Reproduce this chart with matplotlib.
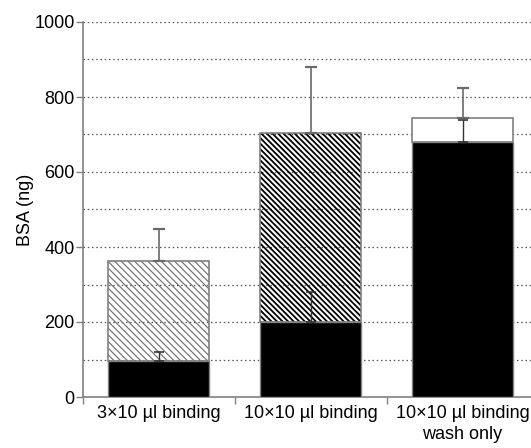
import numpy as np
import matplotlib
matplotlib.use("Agg")
import matplotlib.pyplot as plt

plt.rcParams['font.family'] = ['Liberation Sans', 'DejaVu Sans']

labels = ["3\u00d710 \u00b5l binding", "10\u00d710 \u00b5l binding", "10\u00d710 \u00b5l binding\nwash only"]
bound = [95, 200, 680]          # black part of each bar
bound_err = [25, 80, 58]
total = [364, 705, 745]         # full bar height
total_err = [83, 175, 79]

x = np.arange(len(labels))
width = 0.665
outline = '#808080'

fig = plt.figure(figsize=(5.31, 4.48), dpi=100)
ax = fig.add_axes([83 / 531, 51 / 448, 455.5 / 531, 375 / 448])

# dotted gridlines every 100
for v in range(100, 1001, 100):
    ax.axhline(v, color='#555555', lw=0.9, ls=(0, (1.2, 2.2)), zorder=0)

top = [t - b for t, b in zip(total, bound)]

# upper segments: light hatch, dark hatch, plain white
plt.rcParams['hatch.linewidth'] = 0.8
ax.bar(x[0], top[0], width, bottom=bound[0], facecolor='none', edgecolor='#6a6a6a',
       hatch='\\' * 5, lw=0, zorder=2)
plt.rcParams['hatch.linewidth'] = 1.3
ax.bar(x[1], top[1], width, bottom=bound[1], facecolor='none', edgecolor='black',
       hatch='\\' * 6, lw=0, zorder=2)
ax.bar(x[2], top[2], width, bottom=bound[2], facecolor='white', edgecolor=outline,
       lw=1.2, zorder=2)
ax.bar(x[:2], top[:2], width, bottom=bound[:2], facecolor='none', edgecolor=outline,
       lw=1.2, zorder=3)

ax.bar(x, bound, width, color='black', edgecolor=outline, lw=1.0, zorder=3)

# plus-only error bars
ax.errorbar(x, bound, yerr=[np.zeros(3), bound_err], fmt='none', ecolor='#333333',
            elinewidth=1.0, capsize=3.5, capthick=1.2, zorder=4)
ax.errorbar(x, total, yerr=[np.zeros(3), total_err], fmt='none', ecolor='#6a6a6a',
            elinewidth=1.2, capsize=4, capthick=1.6, zorder=4)

ax.set_xlim(-0.5, 2.5)
ax.set_ylim(0, 1000)
ax.set_yticks(range(0, 1001, 200))
ax.set_yticks(range(100, 1000, 200), minor=True)
ax.set_xticks([-0.5, 0.5, 1.5, 2.5])
ax.set_xticklabels([])
ax.set_xticks(x, minor=True)
ax.set_xticklabels(labels, minor=True, fontsize=13, linespacing=1.3)
ax.tick_params(axis='x', which='minor', length=0, pad=6)
ax.tick_params(axis='x', which='major', length=5, color=outline, width=1)
ax.tick_params(axis='y', which='major', length=5, color=outline, width=1, labelsize=13, pad=1)
ax.tick_params(axis='y', which='minor', length=0)

for s in ['top', 'right']:
    ax.spines[s].set_visible(False)
for s in ['left', 'bottom']:
    ax.spines[s].set_color(outline)
    ax.spines[s].set_linewidth(1.2)

ax.set_ylabel("BSA (ng)", fontsize=13, labelpad=0)

fig.savefig("out.png", dpi=100)
